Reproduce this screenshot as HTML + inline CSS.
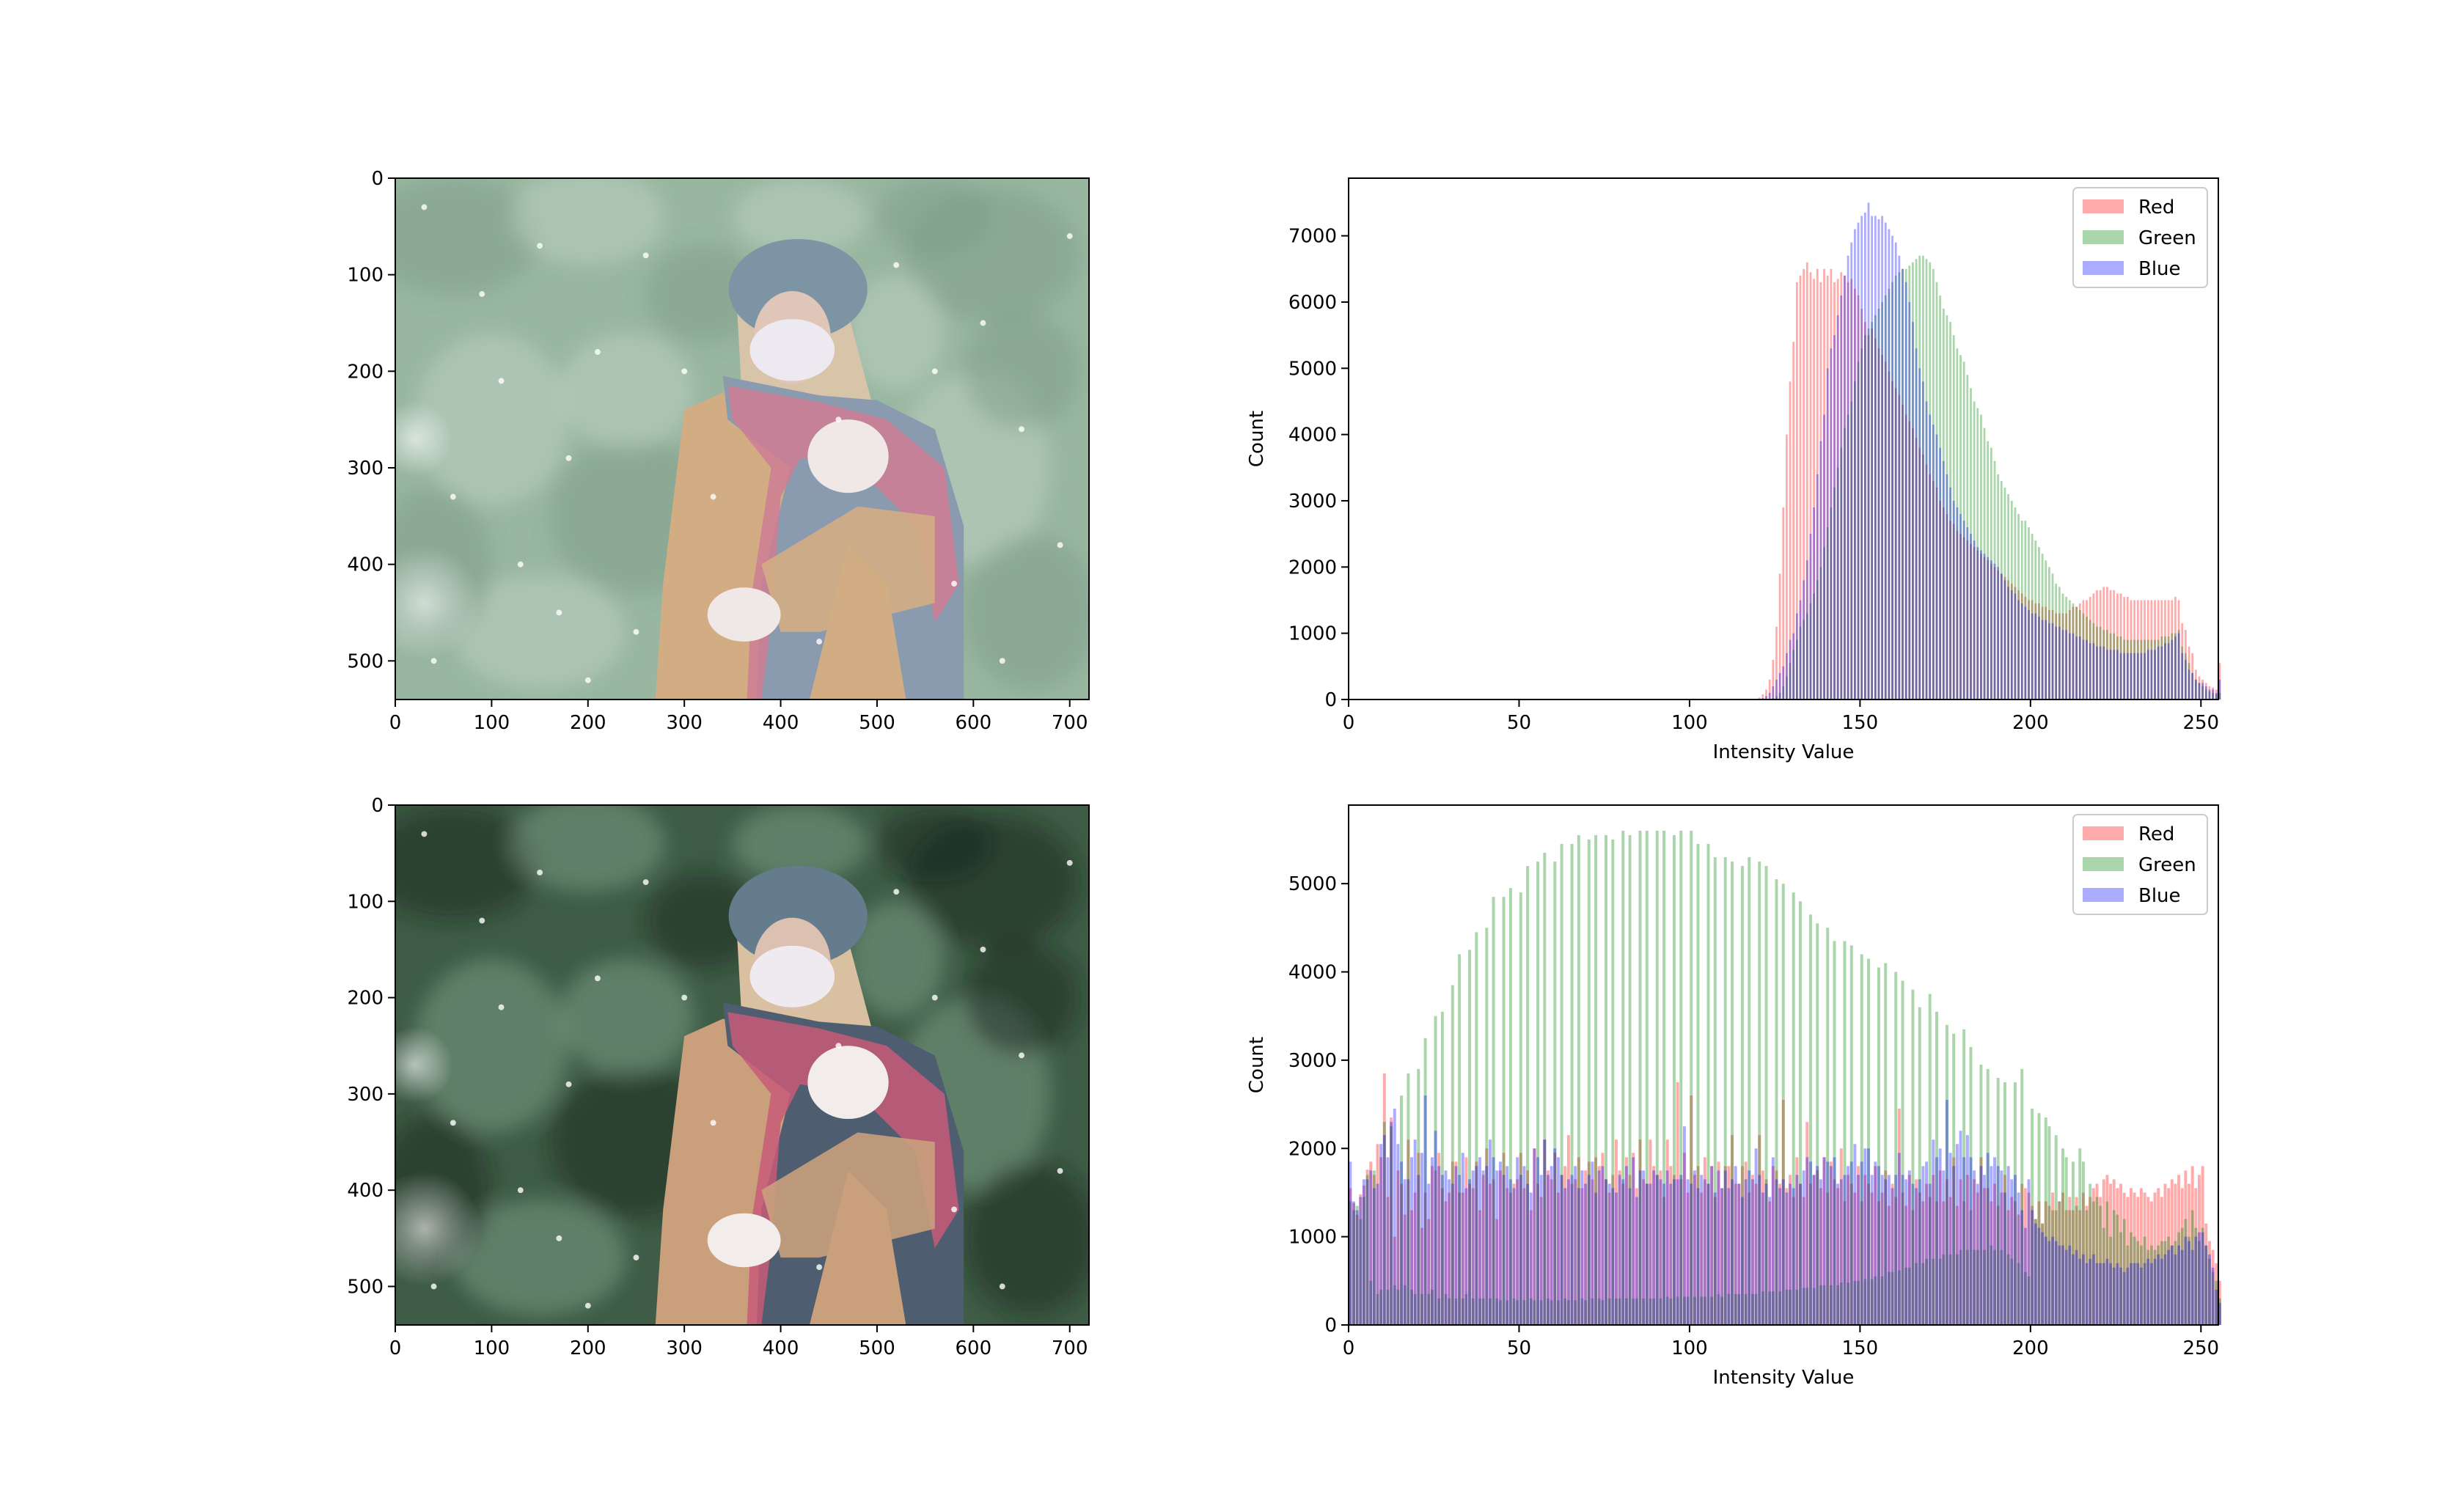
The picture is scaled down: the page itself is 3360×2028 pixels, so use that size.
<!DOCTYPE html>
<html><head><meta charset="utf-8"><style>
html,body{margin:0;padding:0;background:#fff}
svg{display:block;font-family:"DejaVu Sans","Liberation Sans",sans-serif}
</style></head><body>
<svg id="fig" width="3360" height="2028" viewBox="0 0 3360 2028" xmlns="http://www.w3.org/2000/svg">
<defs>
<radialGradient id="bokeh" cx="50%" cy="50%" r="50%"><stop offset="0" stop-color="#fff" stop-opacity="0.6"/><stop offset="1" stop-color="#fff" stop-opacity="0"/></radialGradient>
<filter id="soft" x="-20%" y="-20%" width="140%" height="140%"><feGaussianBlur stdDeviation="10"/></filter>
</defs>
<g id="photos"></g>
<g id="hists"></g>
</svg>
<script>
const NS='http://www.w3.org/2000/svg';
const intensityTicks=[0,50,100,150,200,250];
const topYTicks=[0,1000,2000,3000,4000,5000,6000,7000];
const botYTicks=[0,1000,2000,3000,4000,5000];
const imgXTicks=[0,100,200,300,400,500,600,700];
const imgYTicks=[0,100,200,300,400,500];
const legendLabels=['Red','Green','Blue'];
const z120=[0,0,0,0,0,0,0,0,0,0,0,0,0,0,0,0,0,0,0,0,0,0,0,0,0,0,0,0,0,0,0,0,0,0,0,0,0,0,0,0,0,0,0,0,0,0,0,0,0,0,0,0,0,0,0,0,0,0,0,0,0,0,0,0,0,0,0,0,0,0,0,0,0,0,0,0,0,0,0,0,0,0,0,0,0,0,0,0,0,0,0,0,0,0,0,0,0,0,0,0,0,0,0,0,0,0,0,0,0,0,0,0,0,0,0,0,0,0,0,0];
const redTop=z120.concat([30,80,150,300,600,1100,1900,2900,4000,4800,
5400,6300,6400,6500,6600,6450,6350,6500,6300,6500,
6400,6500,6300,6350,6450,6400,6300,6350,6200,6100,
5900,5700,5500,5600,5450,5300,5200,5100,4950,4800,
4700,4600,4450,4300,4200,4100,3950,3800,3700,3550,
3400,3300,3200,3000,2900,2800,2700,2650,2550,2500,
2450,2400,2350,2300,2250,2200,2150,2100,2050,2000,
1950,1900,1850,1800,1750,1700,1650,1600,1550,1500,
1500,1450,1450,1400,1400,1350,1350,1300,1300,1300,
1300,1350,1400,1400,1450,1500,1500,1550,1600,1650,
1650,1700,1700,1650,1650,1600,1600,1550,1550,1500,
1500,1500,1500,1500,1500,1500,1500,1500,1500,1500,
1500,1500,1550,1500,1150,1050,800,700,450,350,
300,250,200,180,150,550]);
const greenTop=z120.concat([0,0,0,0,20,50,100,200,350,550,
750,900,1100,1200,1300,1450,1600,1800,2000,2300,
2600,2900,3200,3500,3800,4100,4300,4500,4800,5100,
5300,5500,5600,5700,5800,5900,6000,6100,6200,6300,
6400,6450,6500,6500,6550,6600,6650,6700,6700,6650,
6600,6500,6300,6100,5900,5800,5700,5500,5300,5200,
5100,4900,4700,4500,4400,4300,4100,3900,3800,3600,
3400,3300,3200,3100,3000,2900,2800,2700,2700,2600,
2500,2400,2300,2200,2100,2000,1900,1750,1700,1600,
1550,1500,1450,1400,1350,1300,1250,1200,1150,1100,
1100,1050,1050,1000,1000,950,950,900,900,900,
900,900,900,900,900,900,900,900,950,950,
950,1000,1000,1050,800,700,550,400,300,250,
200,150,120,100,80,100]);
const blueTop=z120.concat([0,20,50,100,200,300,400,500,700,900,
1000,1300,1500,1800,2100,2500,2900,3400,3900,4300,
5000,5300,5500,5800,6100,6400,6700,6900,7100,7200,
7300,7350,7500,7300,7300,7250,7300,7200,7100,7000,
6900,6700,6500,6300,6000,5700,5300,5000,4800,4500,
4300,4150,4000,3800,3600,3400,3200,3000,2900,2800,
2700,2600,2500,2400,2300,2250,2200,2150,2100,2050,
2000,1900,1800,1700,1650,1600,1500,1450,1400,1350,
1300,1300,1250,1200,1200,1150,1150,1100,1100,1050,
1050,1000,1000,950,950,900,900,850,850,800,
800,800,750,750,750,750,700,700,700,700,
700,700,700,700,750,750,750,800,800,850,
850,900,950,1000,700,600,450,400,300,250,
250,200,150,150,100,300]);
const redBot=[1550,1380,1250,1480,1580,1760,1850,1700,2050,1900,
2850,1450,2350,1000,1750,1600,1250,2100,1300,1500,
1950,1100,1500,1200,1800,1750,1950,1550,1400,1500,
1850,1850,1500,1500,1900,1600,1550,1850,1300,1700,
2000,1600,1650,1200,1750,1950,1550,1500,1600,1650,
1950,1550,1750,1300,2000,1600,1450,2100,1750,1650,
1950,1500,1700,1800,2150,1600,1650,1900,1550,1750,
1850,1650,1900,1800,1950,1650,1500,1700,2100,1750,
1600,1900,1700,1950,1550,2100,1650,1600,2100,1800,
1700,1750,1450,2100,1800,1700,2750,1650,1950,1500,
2600,1700,1800,1500,1900,1600,1800,1450,1850,1550,
1800,1800,2150,1600,1600,1800,1850,1500,1700,1600,
2150,1750,1650,1400,1800,1750,1600,2550,1550,1700,
1450,1900,1600,1450,2300,1600,1700,1750,1550,1900,
1500,1850,1650,1550,2000,1400,1700,1600,1500,1800,
1400,1700,1600,1500,1800,1400,1500,1750,1350,1600,
1450,2450,1500,1350,1700,1300,1650,1500,1400,1600,
1450,1700,1400,1750,1400,1650,1450,1900,1350,1650,
1400,1700,1300,1650,1500,1900,1550,1550,1400,1600,
1350,1500,1700,1300,1450,1400,1250,1600,1550,1500,
1350,1200,1400,1150,1400,1350,1500,1300,1400,1500,
1300,1450,1300,1450,1300,1500,1350,1450,1550,1600,
1450,1650,1700,1600,1650,1550,1600,1500,1450,1550,
1500,1450,1550,1500,1450,1400,1500,1550,1450,1600,
1550,1650,1600,1700,1550,1750,1600,1800,1550,1700,
1800,1150,950,850,700,500];
const greenBot=[1400,1300,1350,1200,1450,1700,500,1750,350,400,
2300,400,2250,450,400,2600,450,2850,400,350,
2900,350,3250,350,400,3500,300,3550,350,300,
3850,300,4200,300,350,4250,300,4450,300,300,
4500,300,4850,300,280,4850,280,4950,300,280,
4900,280,5200,300,280,5250,280,5350,300,280,
5250,280,5450,300,280,5450,280,5550,300,280,
5500,300,5550,300,280,5550,300,5500,300,300,
5600,300,5550,300,300,5600,300,5600,300,300,
5600,300,5600,320,300,5550,320,5600,320,320,
5600,320,5450,320,320,5450,320,5300,350,320,
5300,350,5250,350,350,5200,350,5300,350,350,
5250,380,5200,380,380,5050,380,5000,400,400,
4900,400,4800,420,420,4650,420,4550,450,450,
4500,450,4350,450,480,4350,480,4300,500,500,
4200,520,4150,520,550,4050,550,4100,600,600,
4000,620,3900,650,650,3800,700,3600,700,750,
3750,750,3550,750,800,3400,800,3300,800,850,
3350,850,3150,850,850,2950,850,2900,900,850,
2800,850,2750,800,750,2750,700,2900,600,550,
2450,1200,2400,1150,2350,2250,1300,2150,1400,2000,
1900,1300,1850,1350,2000,1850,1300,1600,1400,1450,
1350,1100,1400,1000,1300,1250,1050,1200,900,1050,
1000,950,900,1000,850,900,850,900,950,950,
1000,900,950,1050,1100,1200,1000,1300,1100,950,
1100,900,750,600,500,300];
const blueBot=[1850,1400,1300,1450,1650,1650,1750,1550,1600,2050,
2150,1900,2300,2450,2050,1850,1650,1650,1900,2100,
1700,1950,2600,1600,1900,2200,1800,1700,1750,1650,
1600,1800,1700,1950,1550,1650,1750,1800,1900,1750,
1800,2100,1900,1750,1850,1700,1800,1650,1550,1900,
1700,1800,1600,1500,2000,1900,1700,2100,1700,1800,
2000,1900,1700,1550,1650,1700,1800,1550,1750,1600,
1700,1850,1500,1750,1800,1650,1600,1550,1500,1700,
1650,1800,1550,1900,1450,1750,1750,1600,1600,1750,
1700,1650,1600,1750,1600,1650,1650,1700,2250,1650,
1600,1750,1550,1700,1650,1600,1800,1500,1750,1550,
1750,1550,1650,1800,1600,1450,1650,1750,1650,2000,
1700,1500,1600,1450,1900,1650,1550,1650,1500,1600,
1550,1700,1600,1750,1900,1850,1700,1800,1650,1900,
1850,1800,1900,1600,1650,1700,1800,1850,2050,1700,
1850,2000,2000,1700,1850,1800,1700,1650,1700,1550,
1700,1950,1700,1650,1750,1600,1550,1650,1800,1850,
1600,2100,1900,2000,1750,2550,1950,1800,2050,2200,
1900,2150,1900,1750,1600,1800,1700,1950,1800,1900,
1800,1750,1500,1800,1650,1700,1500,1300,1100,1650,
1300,1150,1100,1050,1000,950,1000,950,900,900,
850,900,800,850,750,800,700,750,800,700,
700,700,750,700,650,700,650,600,650,700,
700,700,650,700,750,700,750,800,750,800,
850,900,800,900,850,1000,950,850,1000,1050,
1050,900,800,650,400,250];

function el(tag,attrs,parent){const e=document.createElementNS(NS,tag);for(const k in attrs)e.setAttribute(k,attrs[k]);if(parent)parent.appendChild(e);return e;}
function txt(parent,x,y,s,anchor,size,extra){const t=el('text',Object.assign({x:x,y:y,'text-anchor':anchor,'font-size':size||26,fill:'#000'},extra||{}),parent);t.textContent=s;return t;}

const photosG=document.getElementById('photos');
const histsG=document.getElementById('hists');

function drawPhoto(name,x0,y0,w,h,p){
  const g=el('g',{},photosG);
  
  
  const s=el('svg',{x:x0,y:y0,width:w,height:h,viewBox:'0 0 720 540',preserveAspectRatio:'none'},g);
  el('rect',{x:0,y:0,width:720,height:540,fill:p.bg},s);
  const bl=el('g',{filter:'url(#soft)'},s);
  const blobs=[[60,60,90,60],[200,40,80,50],[620,80,90,70],[100,250,80,90],[250,350,90,80],[600,300,80,100],[660,450,70,80],[150,470,90,60],[320,120,60,50],[520,160,50,60],[40,400,60,80],[420,40,70,40],[560,40,60,40],[240,220,70,60],[650,200,60,60]];
  blobs.forEach((b,i)=>el('ellipse',{cx:b[0],cy:b[1],rx:b[2],ry:b[3],fill:i%2?p.leafL:p.leafD,opacity:0.45},bl));
  el('ellipse',{cx:30,cy:440,rx:60,ry:60,fill:'url(#bokeh)'},s);
  el('ellipse',{cx:20,cy:270,rx:40,ry:40,fill:'url(#bokeh)'},s);
  el('path',{d:'M300 240 L340 222 L470 230 L560 260 L585 400 L590 540 L270 540 L278 420 Z',fill:p.coat},s);
  el('path',{d:'M355 140 L470 140 L510 290 L440 300 L360 230 Z',fill:p.hair},s);
  el('ellipse',{cx:418,cy:115,rx:72,ry:52,fill:p.hat},s);
  el('ellipse',{cx:412,cy:165,rx:40,ry:48,fill:p.skin},s);
  el('ellipse',{cx:412,cy:178,rx:44,ry:32,fill:p.mask},s);
  el('path',{d:'M340 205 L440 225 L500 230 L560 260 L590 360 L590 540 L530 540 L510 420 L470 380 L430 540 L375 540 L380 420 L410 300 L345 250 Z',fill:p.scarfB},s);
  el('path',{d:'M345 215 L440 232 L510 250 L570 300 L585 420 L560 460 L540 360 L480 300 L420 290 L400 330 L390 460 L380 540 L365 540 L370 430 L390 300 L350 250 Z',fill:p.scarfR,opacity:0.85},s);
  el('ellipse',{cx:470,cy:288,rx:42,ry:38,fill:p.glove},s);
  el('path',{d:'M380 400 L480 340 L560 350 L560 440 L440 470 L400 470 Z',fill:p.coat,opacity:0.9},s);
  el('ellipse',{cx:362,cy:452,rx:38,ry:28,fill:p.glove},s);
  const snow=[[30,30],[90,120],[150,70],[210,180],[60,330],[130,400],[180,290],[260,80],[300,200],[250,470],[520,90],[610,150],[650,260],[690,380],[630,500],[560,200],[110,210],[40,500],[330,330],[460,250],[440,480],[200,520],[700,60],[580,420],[170,450]];
  snow.forEach(q=>el('circle',{cx:q[0],cy:q[1],r:3,fill:'#fff',opacity:0.8},s));
  el('rect',{x:x0,y:y0,width:w,height:h,fill:'none',stroke:'#000','stroke-width':2},g);
  const xs=v=>x0+v/720*w, ys=v=>y0+v/540*h;
  imgXTicks.forEach(v=>{const X=xs(v);el('line',{x1:X,y1:y0+h,x2:X,y2:y0+h+10,stroke:'#000','stroke-width':2},g);
    const t=txt(g,X,y0+h+40,String(v),'middle');});
  imgYTicks.forEach(v=>{const Y=ys(v);el('line',{x1:x0-10,y1:Y,x2:x0,y2:Y,stroke:'#000','stroke-width':2},g);
    const t=txt(g,x0-16,Y+9,String(v),'end');});
}
const washed={bg:'#98b6a0',leafD:'#7c9a84',leafL:'#c4d6c8',coat:'#d2ad84',hair:'#d8c4a8',hat:'#7d94a4',skin:'#e0c6b8',mask:'#eceaf0',scarfB:'#8a9bb0',scarfR:'#cf7c94',glove:'#efe8e6'};
const vivid={bg:'#3e5c46',leafD:'#16241b',leafL:'#8aab92',coat:'#caa07c',hair:'#d8c0a0',hat:'#647c8c',skin:'#dcc0b0',mask:'#eeeaf0',scarfB:'#4e5e70',scarfR:'#c85a78',glove:'#f2ecea'};
drawPhoto('original-image',539,243,946,711,washed);
drawPhoto('equalized-image',539,1098,946,709,vivid);

function drawHist(name,x0,y0,w,h,ymax,yticks,series,barFrac){
  const g=el('g',{},histsG);
  
  
  const xs=v=>x0+v/255.1*w, ys=v=>y0+h-v/ymax*h;
  const bw=w/255.1;
  series.forEach(sr=>{
    const sg=el('g',{fill:sr.color,'fill-opacity':0.33},g);
    
    
    sr.data.forEach((v,i)=>{ if(v<=0)return;
      const r=el('rect',{x:xs(i)+bw*(1-barFrac)/2,y:ys(v),width:bw*barFrac,height:y0+h-ys(v)},sg);
      
      
    });
  });
  el('rect',{x:x0,y:y0,width:w,height:h,fill:'none',stroke:'#000','stroke-width':2},g);
  intensityTicks.forEach(v=>{const X=xs(v);el('line',{x1:X,y1:y0+h,x2:X,y2:y0+h+10,stroke:'#000','stroke-width':2},g);
    const t=txt(g,X,y0+h+40,String(v),'middle');});
  yticks.forEach(v=>{const Y=ys(v);el('line',{x1:x0-10,y1:Y,x2:x0,y2:Y,stroke:'#000','stroke-width':2},g);
    const t=txt(g,x0-16,Y+9,String(v),'end');});
  const xl=txt(g,x0+w/2,y0+h+80,'Intensity Value','middle');
  
  
  const yl=txt(g,0,0,'Count','middle',26,{transform:'translate('+(x0-117)+','+(y0+h/2)+') rotate(-90)'});
  
  
  const lg=el('g',{},g);
  
  
  const lx=x0+w-198, ly=y0+13;
  el('rect',{x:lx,y:ly,width:183,height:136,rx:6,fill:'#fff','fill-opacity':0.8,stroke:'#ccc','stroke-width':2},lg);
  series.forEach((sr,i)=>{
    const e=el('g',{},lg);
    
    
    el('rect',{x:lx+13,y:ly+16+i*42,width:56,height:19,fill:sr.color,'fill-opacity':0.33},e);
    txt(e,lx+89,ly+35+i*42,legendLabels[i],'start');
  });
}
drawHist('original-histogram',1839,243,1186,711,7870,topYTicks,
  [{name:'red-series',color:'#ff0000',data:redTop},{name:'green-series',color:'#008000',data:greenTop},{name:'blue-series',color:'#0000ff',data:blueTop}],0.6);
drawHist('equalized-histogram',1839,1098,1186,709,5890,botYTicks,
  [{name:'red-series',color:'#ff0000',data:redBot},{name:'green-series',color:'#008000',data:greenBot},{name:'blue-series',color:'#0000ff',data:blueBot}],0.85);
</script>
</body></html>
